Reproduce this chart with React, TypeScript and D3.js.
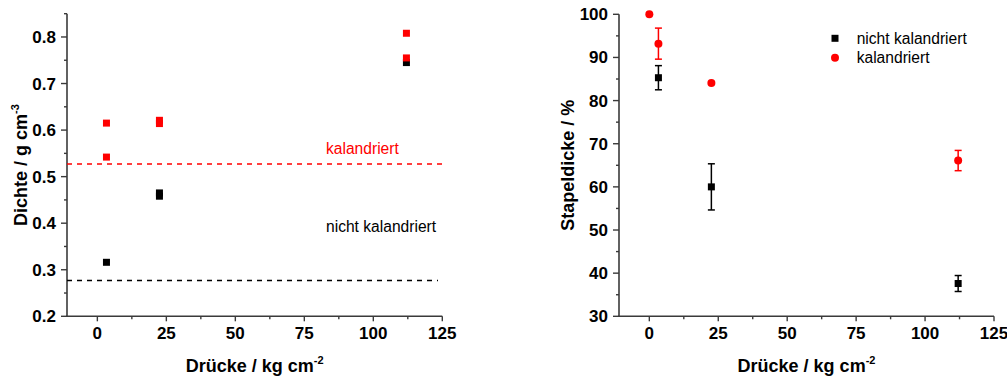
import React from "react";
import * as d3 from "d3";

// Left panel: density vs. pressing pressure
const densityKalX = [3.3, 3.3, 22.5, 22.5, 112, 112];
const densityKalY = [0.615, 0.542, 0.621, 0.614, 0.808, 0.755];
const densityNichtX = [3.3, 22.5, 22.5, 112];
const densityNichtY = [0.316, 0.465, 0.458, 0.745];
const refKal = 0.527;
const refNicht = 0.277;

// Right panel: relative stack thickness vs. pressing pressure
const stackNichtX = [3.3, 22.5, 112];
const stackNichtY = [85.3, 60.0, 37.6];
const stackNichtErr = [2.8, 5.35, 1.85];
const stackKalX = [0, 3.3, 22.5, 112];
const stackKalY = [100, 93.2, 84.1, 66.1];
const stackKalErr = [0, 3.6, 0, 2.35];

const xTicks = [0, 25, 50, 75, 100, 125];
const densityTicks = [0.2, 0.3, 0.4, 0.5, 0.6, 0.7, 0.8];
const stackTicks = [30, 40, 50, 60, 70, 80, 90, 100];

const seriesNames = ["nicht kalandriert", "kalandriert"];
const xTitle = "Drücke / kg cm";

const FONT = "'Liberation Sans', Arial, Helvetica, sans-serif";
const AXIS = "#3a3a3a";
const RED = "#ff0000";

type Lin = d3.ScaleLinear<number, number>;

function Axes({ x, y, yTicks, yMinor, xMinor, fmt, yTitle, ySup, yTitleX }: {
  x: Lin; y: Lin; yTicks: number[]; yMinor: number[]; xMinor: number[];
  fmt: (v: number) => string; yTitle: string; ySup: string; yTitleX: number;
}) {
  const [x0, x1] = x.range();
  const [yb, yt] = y.range();
  const cx = (x0 + x1) / 2;
  const cy = (yb + yt) / 2;
  return (
    <g>
      <line x1={x0 - 0.8} x2={x1} y1={yb} y2={yb} stroke={AXIS} strokeWidth={1.6} />
      <line x1={x0} x2={x0} y1={yb} y2={yt} stroke={AXIS} strokeWidth={1.6} />
      {xTicks.map((t) => (
        <g key={"xt" + t}>
          <line x1={x(t)} x2={x(t)} y1={yb} y2={yb + 5} stroke={AXIS} strokeWidth={1.4} />
          <text x={x(t)} y={yb + 23} textAnchor="middle" fontFamily={FONT} fontWeight="bold" fontSize={17}>{t}</text>
        </g>
      ))}
      {xMinor.map((t) => (
        <line key={"xm" + t} x1={x(t)} x2={x(t)} y1={yb} y2={yb + 3} stroke={AXIS} strokeWidth={1.4} />
      ))}
      {yTicks.map((t) => (
        <g key={"yt" + t}>
          <line x1={x0 - 6} x2={x0} y1={y(t)} y2={y(t)} stroke={AXIS} strokeWidth={1.4} />
          <text x={x0 - 11} y={y(t) + 6} textAnchor="end" fontFamily={FONT} fontWeight="bold" fontSize={17}>{fmt(t)}</text>
        </g>
      ))}
      {yMinor.map((t) => (
        <line key={"ym" + t} x1={x0 - 3} x2={x0} y1={y(t)} y2={y(t)} stroke={AXIS} strokeWidth={1.4} />
      ))}
      <text x={cx} y={372} textAnchor="middle" fontFamily={FONT} fontWeight="bold" fontSize={18}>
        {xTitle}
        <tspan dy={-8} fontSize={11}>-2</tspan>
      </text>
      <text transform={`translate(${yTitleX},${cy}) rotate(-90)`} textAnchor="middle" fontFamily={FONT} fontWeight="bold" fontSize={18}>
        {yTitle}
        {ySup && <tspan dy={-8} fontSize={11}>{ySup}</tspan>}
      </text>
    </g>
  );
}

function Square({ cx, cy, s, fill }: { cx: number; cy: number; s: number; fill: string }) {
  return <rect x={cx - s / 2} y={cy - s / 2} width={s} height={s} fill={fill} />;
}

function ErrorBar({ x, lo, hi, color }: { x: number; lo: number; hi: number; color: string }) {
  if (Math.abs(lo - hi) < 1) return null;
  return (
    <g stroke={color} strokeWidth={1.5}>
      <line x1={x} x2={x} y1={lo} y2={hi} />
      <line x1={x - 3.5} x2={x + 3.5} y1={lo} y2={lo} />
      <line x1={x - 3.5} x2={x + 3.5} y1={hi} y2={hi} />
    </g>
  );
}

export default function App() {
  const xL = d3.scaleLinear().domain([-11, 125]).range([67, 442.3]);
  const yL = d3.scaleLinear().domain([0.2, 0.85]).range([316.3, 13.7]);
  const xR = d3.scaleLinear().domain([-11, 125]).range([619, 994]);
  const yR = d3.scaleLinear().domain([30, 100]).range([316.3, 14.3]);

  const xMinor = d3.range(12.5, 125, 25);
  const yMinorL = d3.range(0.25, 0.86, 0.1).map((v) => +v.toFixed(2));
  const yMinorR = d3.range(35, 100, 10);

  return (
    <svg width={1007} height={378} style={{ position: "absolute", left: 0, top: 0, background: "#fff" }}>
      {/* left panel */}
      <Axes x={xL} y={yL} yTicks={densityTicks} yMinor={yMinorL} xMinor={xMinor}
        fmt={d3.format(".1f")} yTitle="Dichte / g cm" ySup="-3" yTitleX={27} />
      <line x1={xL.range()[0]} x2={xL.range()[1]} y1={yL(refKal)} y2={yL(refKal)}
        stroke={RED} strokeWidth={1.4} strokeDasharray="5,5" />
      <line x1={xL.range()[0]} x2={438} y1={yL(refNicht)} y2={yL(refNicht)}
        stroke="#000" strokeWidth={1.4} strokeDasharray="5,5" />
      <text x={326} y={154.3} fontFamily={FONT} fontSize={15.6} fill={RED}>{seriesNames[1]}</text>
      <text x={326} y={232.3} fontFamily={FONT} fontSize={15.6} fill="#000">{seriesNames[0]}</text>
      {densityNichtX.map((v, i) => (
        <Square key={"dn" + i} cx={xL(v)} cy={yL(densityNichtY[i])} s={7} fill="#000" />
      ))}
      {densityKalX.map((v, i) => (
        <Square key={"dk" + i} cx={xL(v)} cy={yL(densityKalY[i])} s={7} fill={RED} />
      ))}

      {/* right panel */}
      <Axes x={xR} y={yR} yTicks={stackTicks} yMinor={yMinorR} xMinor={xMinor}
        fmt={d3.format("d")} yTitle="Stapeldicke / %" ySup="" yTitleX={574} />
      {stackNichtX.map((v, i) => (
        <g key={"sn" + i}>
          <ErrorBar x={xR(v)} lo={yR(stackNichtY[i] - stackNichtErr[i])}
            hi={yR(stackNichtY[i] + stackNichtErr[i])} color="#000" />
          <Square cx={xR(v)} cy={yR(stackNichtY[i])} s={7} fill="#000" />
        </g>
      ))}
      {stackKalX.map((v, i) => (
        <g key={"sk" + i}>
          <ErrorBar x={xR(v)} lo={yR(stackKalY[i] - stackKalErr[i])}
            hi={yR(stackKalY[i] + stackKalErr[i])} color={RED} />
          <circle cx={xR(v)} cy={yR(stackKalY[i])} r={4} fill={RED} />
        </g>
      ))}
      {/* legend */}
      <Square cx={835} cy={38.3} s={7} fill="#000" />
      <text x={856.7} y={43.7} fontFamily={FONT} fontSize={15.6}>{seriesNames[0]}</text>
      <circle cx={835} cy={57.7} r={4} fill={RED} />
      <text x={856.7} y={63} fontFamily={FONT} fontSize={15.6}>{seriesNames[1]}</text>
    </svg>
  );
}
